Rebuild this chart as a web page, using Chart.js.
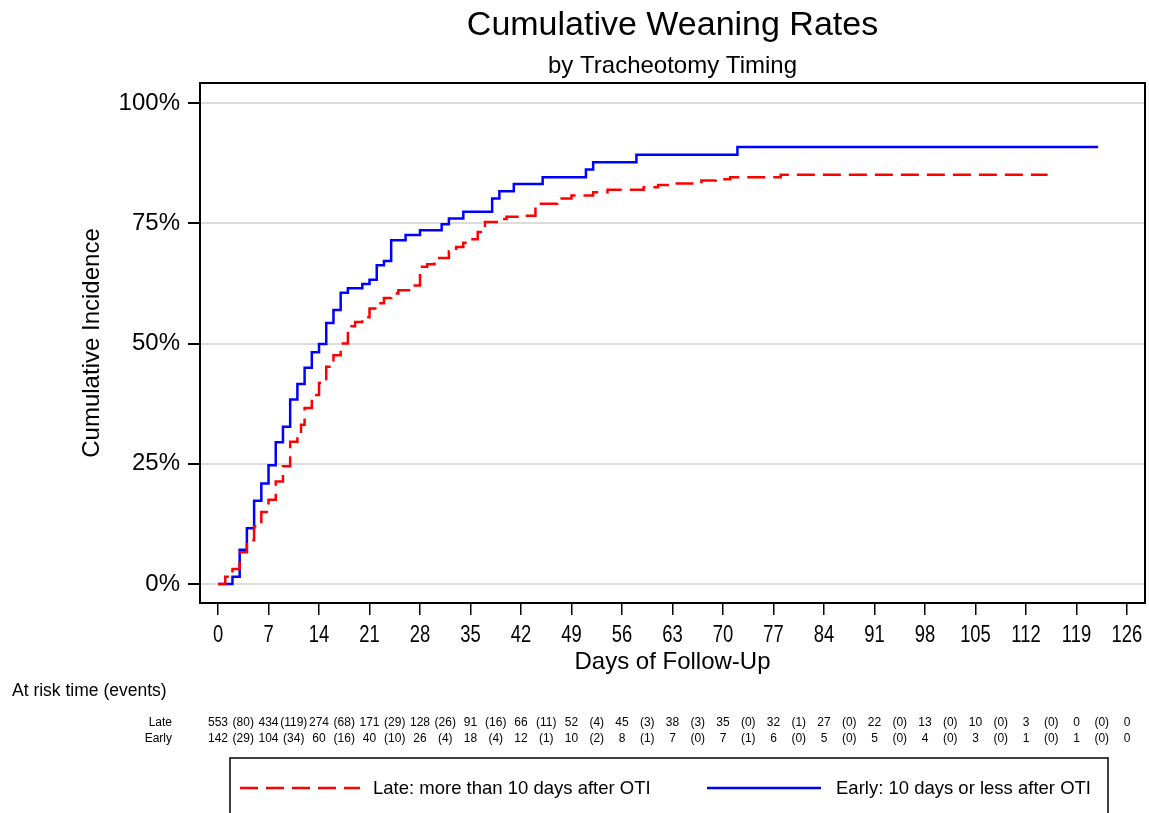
<!DOCTYPE html>
<html>
<head>
<meta charset="utf-8">
<title>Cumulative Weaning Rates</title>
<script src="https://cdn.jsdelivr.net/npm/chart.js@4"></script>
<style>
  html, body { margin: 0; padding: 0; background: #fff; }
  #wrap { position: relative; width: 1149px; height: 813px; }
</style>
</head>
<body>
<div id="wrap"><canvas id="kmChart" width="1149" height="813"></canvas></div>
<script>
// step curves: day of the step, cumulative incidence (%) after it
var lateDays = [0, 1, 2, 3, 4, 5, 6, 7, 8, 9, 10, 11, 11.5, 12, 13, 14, 15, 16, 17, 18, 19, 20, 21, 22, 23, 24, 25, 27, 28, 29, 30, 32, 33, 34, 35, 36, 37, 39, 40, 42, 44, 47, 49, 52, 54, 59, 61, 63, 67, 69, 71, 78, 115];
var lateInc  = [0, 1.5, 3.1, 6.6, 9.1, 12.0, 15.0, 17.5, 21.3, 24.5, 29.6, 31.4, 33.1, 36.6, 39.3, 41.8, 45.2, 47.6, 50.0, 53.6, 54.5, 55.5, 57.3, 58.4, 59.5, 60.4, 61.1, 62.1, 66.0, 66.5, 67.8, 69.2, 70.1, 71.0, 71.7, 73.2, 75.3, 75.9, 76.4, 76.6, 79.1, 80.2, 80.8, 81.5, 82.0, 82.5, 83.0, 83.3, 83.9, 84.2, 84.6, 85.1, 85.1];

var earlyDays = [0, 2, 3, 4, 5, 6, 7, 8, 9, 10, 11, 12, 13, 14, 15, 16, 17, 18, 20, 21, 22, 23, 24, 26, 28, 31, 32, 34, 38, 39, 41, 45, 51, 52, 58, 72, 122];
var earlyInc  = [0, 1.5, 7.1, 11.6, 17.3, 20.9, 24.7, 29.5, 32.7, 38.4, 41.6, 45.0, 48.2, 49.9, 54.3, 57.0, 60.6, 61.5, 62.4, 63.3, 66.3, 67.2, 71.5, 72.6, 73.6, 74.8, 76.0, 77.4, 80.2, 81.7, 83.2, 84.6, 86.2, 87.7, 89.3, 90.9, 90.9];

var xTicks = [0, 7, 14, 21, 28, 35, 42, 49, 56, 63, 70, 77, 84, 91, 98, 105, 112, 119, 126];
var yTicks = [0, 25, 50, 75, 100];

// number at risk (at each tick) and events (between ticks)
var lateRisk    = [553, 434, 274, 171, 128, 91, 66, 52, 45, 38, 35, 32, 27, 22, 13, 10, 3, 0, 0];
var lateEvents  = [80, 119, 68, 29, 26, 16, 11, 4, 3, 3, 0, 1, 0, 0, 0, 0, 0, 0];
var earlyRisk   = [142, 104, 60, 40, 26, 18, 12, 10, 8, 7, 7, 6, 5, 5, 4, 3, 1, 1, 0];
var earlyEvents = [29, 34, 16, 10, 4, 4, 1, 2, 1, 0, 1, 0, 0, 0, 0, 0, 0, 0];

var groupNames = ["Late: more than 10 days after OTI", "Early: 10 days or less after OTI"];
var riskLabels = ["Late", "Early"];

function toPoints(xs, ys) {
  var pts = [];
  for (var i = 0; i < xs.length; i++) pts.push({x: xs[i], y: ys[i]});
  return pts;
}

const FONT = "'Liberation Sans', Arial, sans-serif";

// titles, frame, narrow x labels, risk table and legend box
const extras = {
  id: 'extras',
  afterDraw(chart) {
    const ctx = chart.ctx;
    const a = chart.chartArea;
    const xs = chart.scales.x;
    const cx = (a.left + a.right) / 2;
    ctx.save();
    // frame
    ctx.strokeStyle = '#000';
    ctx.lineWidth = 2;
    ctx.strokeRect(a.left, a.top, a.right - a.left, a.bottom - a.top);

    ctx.fillStyle = '#000';
    ctx.textAlign = 'center';
    ctx.textBaseline = 'middle';
    ctx.font = "34px " + FONT;
    ctx.fillText("Cumulative Weaning Rates", cx, 26);
    ctx.font = "24px " + FONT;
    ctx.fillText("by Tracheotomy Timing", cx, 66);

    // x tick labels (condensed, as in the original)
    ctx.font = "23px " + FONT;
    xTicks.forEach(function(v) {
      ctx.save();
      ctx.translate(xs.getPixelForValue(v), 636);
      ctx.scale(0.8, 1);
      ctx.fillText(String(v), 0, 0);
      ctx.restore();
    });

    ctx.font = "24px " + FONT;
    ctx.fillText("Days of Follow-Up", cx, 662);
    ctx.save();
    ctx.translate(92, (a.top + a.bottom) / 2);
    ctx.rotate(-Math.PI / 2);
    ctx.fillText("Cumulative Incidence", 0, 0);
    ctx.restore();

    // risk table
    ctx.textAlign = 'left';
    ctx.font = "17.5px " + FONT;
    ctx.fillText("At risk time (events)", 12, 691);
    ctx.font = "12px " + FONT;
    ctx.textAlign = 'right';
    ctx.fillText(riskLabels[0], 172, 723);
    ctx.fillText(riskLabels[1], 172, 739);
    ctx.textAlign = 'center';
    for (var i = 0; i < xTicks.length; i++) {
      var px = xs.getPixelForValue(xTicks[i]);
      ctx.fillText(String(lateRisk[i]), px, 723);
      ctx.fillText(String(earlyRisk[i]), px, 739);
      if (i < xTicks.length - 1) {
        var mx = xs.getPixelForValue((xTicks[i] + xTicks[i + 1]) / 2);
        ctx.fillText("(" + lateEvents[i] + ")", mx, 723);
        ctx.fillText("(" + earlyEvents[i] + ")", mx, 739);
      }
    }

    // legend
    ctx.lineWidth = 1.5;
    ctx.strokeStyle = '#000';
    ctx.strokeRect(230, 758, 878, 70);
    ctx.lineWidth = 2.5;
    ctx.strokeStyle = '#ff0000';
    ctx.setLineDash([18, 8]);
    ctx.beginPath(); ctx.moveTo(240, 788); ctx.lineTo(360, 788); ctx.stroke();
    ctx.setLineDash([]);
    ctx.strokeStyle = '#0000ff';
    ctx.beginPath(); ctx.moveTo(707, 788); ctx.lineTo(821, 788); ctx.stroke();
    ctx.textAlign = 'left';
    ctx.font = "18.5px " + FONT;
    ctx.fillText(groupNames[0], 373, 789);
    ctx.fillText(groupNames[1], 836, 789);
    ctx.restore();
  }
};

const CHART = document.getElementById("kmChart");
let kmChart = new Chart(CHART, {
  type: 'line',
  data: {
    datasets: [{
      label: groupNames[0],
      data: toPoints(lateDays, lateInc),
      stepped: 'before',
      borderColor: '#ff0000',
      borderWidth: 2.5,
      borderDash: [18, 8],
      pointRadius: 0,
      fill: false
    }, {
      label: groupNames[1],
      data: toPoints(earlyDays, earlyInc),
      stepped: 'before',
      borderColor: '#0000ff',
      borderWidth: 2.5,
      pointRadius: 0,
      fill: false
    }]
  },
  options: {
    responsive: false,
    animation: false,
    layout: { padding: { left: 0, right: 4, top: 83, bottom: 0 } },
    plugins: {
      legend: { display: false },
      title: { display: false },
      tooltip: { enabled: false }
    },
    scales: {
      x: {
        type: 'linear',
        min: -2.5,
        max: 128.5,
        afterBuildTicks: function(scale) { scale.ticks = xTicks.map(function(v) { return {value: v}; }); },
        afterFit: function(scale) { scale.height = 210; },
        grid: { drawOnChartArea: false, drawTicks: true, tickLength: 12, tickColor: '#000', lineWidth: 1.5 },
        border: { display: false },
        ticks: { display: false }
      },
      y: {
        min: -3.95,
        max: 104.2,
        afterBuildTicks: function(scale) { scale.ticks = yTicks.map(function(v) { return {value: v}; }); },
        afterFit: function(scale) { scale.width = 200; },
        grid: { color: '#dcdcdc', lineWidth: 2, tickColor: '#000', tickLength: 12 },
        border: { display: false },
        ticks: {
          color: '#000',
          font: { size: 24, family: FONT },
          padding: 8,
          callback: function(v) { return v + '%'; }
        }
      }
    }
  },
  plugins: [extras]
});
</script>
</body>
</html>
